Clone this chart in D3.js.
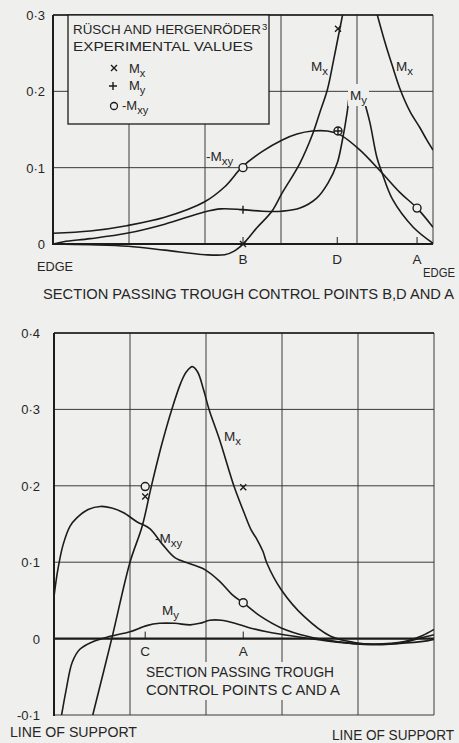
<!DOCTYPE html>
<html>
<head>
<meta charset="utf-8">
<script src="https://cdn.jsdelivr.net/npm/d3@7"></script>
<style>
  body { margin: 0; background: #efefed; }
  svg { display: block; }
  text { font-family: "Liberation Sans", Arial, sans-serif; fill: #262626; }
</style>
</head>
<body>
<script>
// ---- data (x in grid units 0..5, value in moment units) ----

var gridX = [0, 1, 2, 3, 4, 5];

// top plot: section through B, D and A
var topYTicks = [0, 0.1, 0.2, 0.3];
var topYLabels = ["0", "0·1", "0·2", "0·3"];

var topMxLeft = [[0, 0], [0.49, -0.001], [0.99, -0.003], [1.47, -0.008], [2.0, -0.014], [2.26, -0.014],
  [2.39, -0.009], [2.5, 0], [2.68, 0.021], [2.88, 0.043], [3.01, 0.066], [3.25, 0.106], [3.42, 0.145],
  [3.51, 0.172], [3.61, 0.202], [3.69, 0.24], [3.77, 0.28], [3.83, 0.31]];
var topMxRight = [[4.24, 0.31], [4.36, 0.267], [4.46, 0.235], [4.57, 0.202], [4.70, 0.173],
  [4.83, 0.152], [4.92, 0.136], [5.0, 0.123]];
var topMyLeft = [[0, 0], [0.14, 0.003], [0.49, 0.007], [0.97, 0.014], [1.47, 0.026], [1.99, 0.042],
  [2.21, 0.046], [2.49, 0.045], [2.75, 0.043], [3.01, 0.043], [3.25, 0.047], [3.47, 0.060],
  [3.62, 0.080], [3.74, 0.106], [3.80, 0.132], [3.87, 0.172], [3.89, 0.189]];
var topMyRight = [[4.09, 0.189], [4.17, 0.159], [4.26, 0.114], [4.33, 0.093], [4.47, 0.058],
  [4.74, 0.022], [5.0, 0.001]];
var topMxy = [[0, 0.014], [0.49, 0.017], [0.97, 0.024], [1.47, 0.035], [1.99, 0.055], [2.26, 0.075],
  [2.49, 0.101], [2.75, 0.121], [3.01, 0.136], [3.21, 0.144], [3.41, 0.148], [3.61, 0.148],
  [3.78, 0.143], [4.04, 0.123], [4.33, 0.093], [4.57, 0.067], [4.79, 0.047], [5.0, 0.022]];

// experimental values (Rüsch and Hergenröder)
var topMxPts = [[2.5, 0], [3.75, 0.282]];
var topMyPts = [[2.5, 0.045], [3.75, 0.148]];
var topMxyPts = [[2.5, 0.1], [3.75, 0.148], [4.79, 0.047]];
var topControl = [["B", 2.5], ["D", 3.74], ["A", 4.79]];

// bottom plot: section through C and A
var botYTicks = [-0.1, 0, 0.1, 0.2, 0.3, 0.4];
var botYLabels = ["-0·1", "0", "0·1", "0·2", "0·3", "0·4"];

var botMx = [[0.51, -0.1], [0.76, 0], [1.0, 0.1], [1.16, 0.147], [1.28, 0.199], [1.42, 0.255],
  [1.55, 0.30], [1.67, 0.335], [1.74, 0.349], [1.82, 0.356], [1.89, 0.349], [1.97, 0.325],
  [2.04, 0.30], [2.18, 0.26], [2.37, 0.199], [2.5, 0.165], [2.59, 0.143], [2.67, 0.130],
  [2.75, 0.114], [2.80, 0.099], [2.99, 0.064], [3.29, 0.029], [3.64, 0.003], [3.95, -0.005],
  [4.21, -0.007], [4.61, -0.004], [4.85, 0.004], [5.0, 0.012]];
var botMy = [[0.1, -0.1], [0.16, -0.067], [0.24, -0.031], [0.34, -0.014], [0.51, -0.004],
  [0.74, 0.003], [1.0, 0.009], [1.22, 0.017], [1.39, 0.020], [1.59, 0.020], [1.79, 0.018],
  [1.92, 0.020], [2.05, 0.024], [2.2, 0.024], [2.38, 0.020], [2.58, 0.014], [2.80, 0.009],
  [3.16, 0.003], [3.59, -0.003], [4.03, -0.007], [4.38, -0.007], [4.83, -0.004], [5.0, -0.001]];
var botMxy = [[0, 0.055], [0.05, 0.09], [0.12, 0.123], [0.21, 0.147], [0.30, 0.158], [0.45, 0.169],
  [0.61, 0.173], [0.76, 0.171], [0.91, 0.165], [1.09, 0.153], [1.26, 0.144], [1.43, 0.123],
  [1.59, 0.106], [1.79, 0.098], [1.99, 0.090], [2.18, 0.075], [2.34, 0.058], [2.5, 0.046],
  [2.72, 0.029], [2.99, 0.014], [3.33, 0.003], [3.72, -0.004], [4.17, -0.008], [4.61, -0.005],
  [4.83, 0.001], [5.0, 0.005]];

var botMxPts = [[1.2, 0.186], [2.49, 0.198]];
var botMxyPts = [[1.2, 0.199], [2.49, 0.047]];
var botControl = [["C", 1.2], ["A", 2.49]];

// ---- drawing ----
var ink = "#1c1c1c", paper = "#efefed";

var svg = d3.select("body")
    .append("svg")
    .attr("width", 459)
    .attr("height", 743);

var xT = d3.scaleLinear().domain([0, 5]).range([53, 433]);
var yT = d3.scaleLinear().domain([0, 0.3]).range([244, 15]);
var xB = d3.scaleLinear().domain([0, 5]).range([54, 434]);
var yB = d3.scaleLinear().domain([-0.1, 0.4]).range([715, 333]);

function grid(g, x, y, ticks, labels, labelGap) {
  var y0 = y.domain()[0], y1 = y.domain()[1];
  g.selectAll("line.v").data(gridX).join("line")
      .attr("x1", d => x(d)).attr("x2", d => x(d))
      .attr("y1", y(y0)).attr("y2", y(y1))
      .attr("stroke", "#3a3a3a").attr("stroke-width", 1);
  g.selectAll("line.h").data(ticks).join("line").attr("class", "h")
      .attr("x1", x(0)).attr("x2", x(5))
      .attr("y1", d => y(d)).attr("y2", d => y(d))
      .attr("stroke", "#3a3a3a").attr("stroke-width", 1);
  // heavy left edge and zero line
  g.append("line").attr("x1", x(0)).attr("x2", x(0)).attr("y1", y(y0) + 1).attr("y2", y(y1))
      .attr("stroke", ink).attr("stroke-width", 2);
  g.append("line").attr("x1", x(0)).attr("x2", x(5)).attr("y1", y(0)).attr("y2", y(0))
      .attr("stroke", ink).attr("stroke-width", 2.2);
  g.selectAll("text.tick").data(ticks).join("text").attr("class", "tick")
      .attr("x", x(0) - labelGap).attr("y", d => y(d) + 5)
      .attr("text-anchor", "end").attr("font-size", 13)
      .text((d, i) => labels[i]);
}

function curve(g, x, y, data) {
  var line = d3.line()
      .x(function(d) { return x(d[0]); })
      .y(function(d) { return y(d[1]); })
      .curve(d3.curveCatmullRom.alpha(0.5));
  g.append("path").datum(data)
      .attr("d", line)
      .attr("fill", "none").attr("stroke", ink).attr("stroke-width", 1.6);
}

function marks(g, x, y, data, kind) {
  var sel = g.selectAll(null).data(data).join("g")
      .attr("transform", d => "translate(" + x(d[0]) + "," + y(d[1]) + ")");
  if (kind === "x") sel.append("path").attr("d", "M-3,-3L3,3M-3,3L3,-3");
  if (kind === "+") sel.append("path").attr("d", "M-4,0H4M0,-4V4");
  if (kind === "o") sel.append("circle").attr("r", 4).attr("fill", paper);
  sel.selectAll("*").attr("stroke", ink).attr("stroke-width", 1.4);
  return sel;
}

// "M" with subscript, optional leading minus
function mLabel(g, x, y, sub, minus, size) {
  size = size || 13.5;
  var t = g.append("text").attr("x", x).attr("y", y).attr("font-size", size);
  t.append("tspan").text((minus ? "-" : "") + "M");
  t.append("tspan").attr("dy", 4).attr("font-size", size * 0.85).text(sub);
  return t;
}

function label(g, x, y, txt, size, len) {
  var t = g.append("text").attr("x", x).attr("y", y).attr("font-size", size).text(txt);
  if (len) t.attr("textLength", len).attr("lengthAdjust", "spacingAndGlyphs");
  return t;
}

// ======= top plot =======
var gt = svg.append("g");
grid(gt, xT, yT, topYTicks, topYLabels, 8);
gt.append("line").attr("x1", xT(0)).attr("x2", xT(5)).attr("y1", yT(0.3)).attr("y2", yT(0.3))
    .attr("stroke", ink).attr("stroke-width", 1.3);

svg.append("clipPath").attr("id", "clipT").append("rect")
    .attr("x", xT(0)).attr("y", yT(0.3)).attr("width", xT(5) - xT(0)).attr("height", yT(-0.03) - yT(0.3));
var ct = gt.append("g").attr("clip-path", "url(#clipT)");
curve(ct, xT, yT, topMxLeft);
curve(ct, xT, yT, topMxRight);
curve(ct, xT, yT, topMyLeft);
curve(ct, xT, yT, topMyRight);
curve(ct, xT, yT, topMxy);

// control point ticks and letters
gt.selectAll("line.cp").data(topControl).join("line").attr("class", "cp")
    .attr("x1", d => xT(d[1])).attr("x2", d => xT(d[1]))
    .attr("y1", yT(0)).attr("y2", yT(0) - 7).attr("stroke", ink).attr("stroke-width", 1);
gt.selectAll("text.cp").data(topControl).join("text").attr("class", "cp")
    .attr("x", d => xT(d[1])).attr("y", 264).attr("text-anchor", "middle").attr("font-size", 13.5)
    .text(d => d[0]);

marks(gt, xT, yT, topMxyPts, "o");
marks(gt, xT, yT, topMxPts, "x");
marks(gt, xT, yT, topMyPts, "+");

// curve labels
gt.append("rect").attr("x", 348).attr("y", 84).attr("width", 21).attr("height", 22).attr("fill", paper);
mLabel(gt, 311, 71, "x");
mLabel(gt, 396, 71, "x");
mLabel(gt, 350, 100, "y");
mLabel(gt, 206, 161, "xy", true);

// legend box
var lg = gt.append("g");
lg.append("rect").attr("x", 68).attr("y", 15).attr("width", 201).attr("height", 109)
    .attr("fill", paper).attr("stroke", ink).attr("stroke-width", 1.3);
label(lg, 73, 34, "RÜSCH AND HERGENRÖDER", 13, 188);
lg.append("text").attr("x", 262).attr("y", 30).attr("font-size", 9.5).text("3");
label(lg, 73, 51, "EXPERIMENTAL  VALUES", 13, 180);
lg.append("path").attr("transform", "translate(114,68)").attr("d", "M-3,-3L3,3M-3,3L3,-3")
    .attr("stroke", ink).attr("stroke-width", 1.4);
lg.append("path").attr("transform", "translate(113,86)").attr("d", "M-4,0H4M0,-4V4")
    .attr("stroke", ink).attr("stroke-width", 1.4);
lg.append("circle").attr("cx", 114).attr("cy", 106).attr("r", 3.5)
    .attr("fill", paper).attr("stroke", ink).attr("stroke-width", 1.3);
mLabel(lg, 129, 73, "x", false, 13);
mLabel(lg, 129, 90, "y", false, 13);
mLabel(lg, 122, 110, "xy", true, 13);

label(gt, 37, 271, "EDGE", 13, 36);
label(gt, 423, 277, "EDGE", 13, 32);
label(gt, 43, 299, "SECTION  PASSING  TROUGH  CONTROL  POINTS  B,D AND A", 14, 411);

// ======= bottom plot =======
var gb = svg.append("g");
grid(gb, xB, yB, botYTicks, botYLabels, 14);
gb.append("line").attr("x1", xB(0)).attr("x2", xB(5)).attr("y1", yB(0.4)).attr("y2", yB(0.4))
    .attr("stroke", ink).attr("stroke-width", 1.3);

svg.append("clipPath").attr("id", "clipB").append("rect")
    .attr("x", xB(0)).attr("y", yB(0.4)).attr("width", xB(5) - xB(0)).attr("height", yB(-0.1) - yB(0.4));
var cb = gb.append("g").attr("clip-path", "url(#clipB)");
curve(cb, xB, yB, botMx);
curve(cb, xB, yB, botMy);
curve(cb, xB, yB, botMxy);

gb.selectAll("line.cp").data(botControl).join("line").attr("class", "cp")
    .attr("x1", d => xB(d[1])).attr("x2", d => xB(d[1]))
    .attr("y1", yB(0)).attr("y2", yB(0) - 7).attr("stroke", ink).attr("stroke-width", 1);
gb.selectAll("text.cp").data(botControl).join("text").attr("class", "cp")
    .attr("x", d => xB(d[1])).attr("y", 656).attr("text-anchor", "middle").attr("font-size", 13.5)
    .text(d => d[0]);

marks(gb, xB, yB, botMxyPts, "o");
marks(gb, xB, yB, botMxPts, "x");

mLabel(gb, 224, 441, "x");
mLabel(gb, 155, 543, "xy", true);
mLabel(gb, 162, 615, "y");

gb.append("rect").attr("x", 140).attr("y", 662).attr("width", 206).attr("height", 38).attr("fill", paper);
label(gb, 146, 677, "SECTION  PASSING  TROUGH", 14, 188);
label(gb, 146, 695, "CONTROL  POINTS  C AND A", 14, 194);
label(gb, 10, 737, "LINE OF SUPPORT", 14, 127);
label(gb, 332, 740, "LINE OF SUPPORT", 14, 122);
</script>
</body>
</html>
